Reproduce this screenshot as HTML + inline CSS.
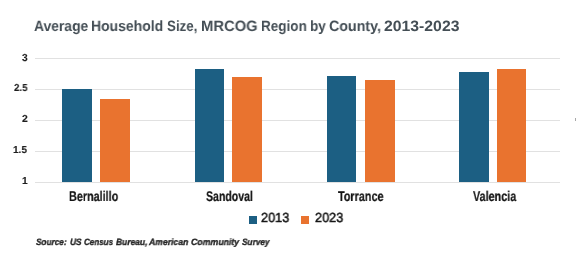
<!DOCTYPE html>
<html><head><meta charset="utf-8">
<style>
html,body{margin:0;padding:0;background:#fff;}
body{width:584px;height:254px;position:relative;overflow:hidden;font-family:"Liberation Sans",sans-serif;}
.t{position:absolute;white-space:nowrap;transform-origin:0 0;text-rendering:geometricPrecision;will-change:transform;}
.r{position:absolute;}
</style></head><body>
<div class="r" style="left:35px;top:58px;width:525px;height:1px;background:#e1e1e1"></div>
<div class="r" style="left:35px;top:89px;width:525px;height:1px;background:#e1e1e1"></div>
<div class="r" style="left:35px;top:120px;width:525px;height:1px;background:#e1e1e1"></div>
<div class="r" style="left:35px;top:151px;width:525px;height:1px;background:#e1e1e1"></div>
<div class="r" style="left:35px;top:182px;width:525px;height:1px;background:#e1e1e1"></div>
<div class="r" style="left:62.0px;top:89px;width:30px;height:93.00px;background:#1c5f83"></div>
<div class="r" style="left:100.0px;top:99px;width:30px;height:83.00px;background:#e9732f"></div>
<div class="r" style="left:195.0px;top:69px;width:29px;height:113.00px;background:#1c5f83"></div>
<div class="r" style="left:232.0px;top:77px;width:30px;height:105.00px;background:#e9732f"></div>
<div class="r" style="left:327.0px;top:76px;width:29px;height:106.00px;background:#1c5f83"></div>
<div class="r" style="left:365.0px;top:80px;width:30px;height:102.00px;background:#e9732f"></div>
<div class="r" style="left:459.0px;top:72px;width:30px;height:110.00px;background:#1c5f83"></div>
<div class="r" style="left:497.0px;top:69px;width:29px;height:113.00px;background:#e9732f"></div>
<div class="r" style="left:248.8px;top:215.9px;width:8.4px;height:7.9px;background:#1c5f83"></div>
<div class="r" style="left:301.1px;top:216px;width:8.2px;height:7.8px;background:#e9732f"></div>
<div class="r" style="left:574.6px;top:118px;width:1.5px;height:3px;background:#a8a8a8"></div>
<span class="t" style="left:33.78px;top:19.86px;font-size:14.928px;line-height:14.928px;font-weight:bold;font-style:normal;color:#444e55;transform:scaleX(0.9298)">Average</span>
<span class="t" style="left:91.22px;top:19.86px;font-size:14.928px;line-height:14.928px;font-weight:bold;font-style:normal;color:#444e55;transform:scaleX(0.9363)">Household</span>
<span class="t" style="left:167.10px;top:19.86px;font-size:14.928px;line-height:14.928px;font-weight:bold;font-style:normal;color:#444e55;transform:scaleX(0.8942)">Size,</span>
<span class="t" style="left:200.87px;top:19.86px;font-size:14.928px;line-height:14.928px;font-weight:bold;font-style:normal;color:#444e55;transform:scaleX(0.9904)">MRCOG</span>
<span class="t" style="left:260.95px;top:19.86px;font-size:14.928px;line-height:14.928px;font-weight:bold;font-style:normal;color:#444e55;transform:scaleX(0.9062)">Region</span>
<span class="t" style="left:310.05px;top:19.86px;font-size:14.928px;line-height:14.928px;font-weight:bold;font-style:normal;color:#444e55;transform:scaleX(0.9096)">by</span>
<span class="t" style="left:329.43px;top:19.86px;font-size:14.928px;line-height:14.928px;font-weight:bold;font-style:normal;color:#444e55;transform:scaleX(0.9557)">County,</span>
<span class="t" style="left:384.33px;top:19.86px;font-size:14.928px;line-height:14.928px;font-weight:bold;font-style:normal;color:#444e55;transform:scaleX(1.0582)">2013-2023</span>
<span class="t" style="left:68.64px;top:188.99px;font-size:14.058px;line-height:14.058px;font-weight:bold;font-style:normal;color:#141414;transform:scaleX(0.7689);-webkit-text-stroke:0.2px #141414">Bernalillo</span>
<span class="t" style="left:205.58px;top:188.99px;font-size:14.058px;line-height:14.058px;font-weight:bold;font-style:normal;color:#141414;transform:scaleX(0.7507);-webkit-text-stroke:0.2px #141414">Sandoval</span>
<span class="t" style="left:338.39px;top:188.99px;font-size:14.058px;line-height:14.058px;font-weight:bold;font-style:normal;color:#141414;transform:scaleX(0.7712);-webkit-text-stroke:0.2px #141414">Torrance</span>
<span class="t" style="left:473.39px;top:188.99px;font-size:14.058px;line-height:14.058px;font-weight:bold;font-style:normal;color:#141414;transform:scaleX(0.7682);-webkit-text-stroke:0.2px #141414">Valencia</span>
<span class="t" style="left:261.37px;top:211.44px;font-size:13.286px;line-height:13.286px;font-weight:normal;font-style:normal;color:#161616;transform:scaleX(0.9541);-webkit-text-stroke:0.5px #161616">2013</span>
<span class="t" style="left:315.07px;top:211.44px;font-size:13.286px;line-height:13.286px;font-weight:normal;font-style:normal;color:#161616;transform:scaleX(0.9541);-webkit-text-stroke:0.5px #161616">2023</span>
<span class="t" style="left:36.12px;top:237.73px;font-size:9.130px;line-height:9.130px;font-weight:bold;font-style:italic;color:#262626;transform:scaleX(0.9007);-webkit-text-stroke:0.35px #262626">Source:</span>
<span class="t" style="left:69.60px;top:237.73px;font-size:9.130px;line-height:9.130px;font-weight:bold;font-style:italic;color:#262626;transform:scaleX(0.9127);-webkit-text-stroke:0.35px #262626">US</span>
<span class="t" style="left:83.90px;top:237.73px;font-size:9.130px;line-height:9.130px;font-weight:bold;font-style:italic;color:#262626;transform:scaleX(0.8805);-webkit-text-stroke:0.35px #262626">Census</span>
<span class="t" style="left:115.83px;top:237.73px;font-size:9.130px;line-height:9.130px;font-weight:bold;font-style:italic;color:#262626;transform:scaleX(0.9258);-webkit-text-stroke:0.35px #262626">Bureau,</span>
<span class="t" style="left:149.27px;top:237.73px;font-size:9.130px;line-height:9.130px;font-weight:bold;font-style:italic;color:#262626;transform:scaleX(0.9457);-webkit-text-stroke:0.35px #262626">American</span>
<span class="t" style="left:190.96px;top:237.73px;font-size:9.130px;line-height:9.130px;font-weight:bold;font-style:italic;color:#262626;transform:scaleX(0.9596);-webkit-text-stroke:0.35px #262626">Community</span>
<span class="t" style="left:241.62px;top:237.73px;font-size:9.130px;line-height:9.130px;font-weight:bold;font-style:italic;color:#262626;transform:scaleX(0.9062);-webkit-text-stroke:0.35px #262626">Survey</span>
<span class="t" style="left:21.69px;top:53.54px;font-size:10.114px;line-height:10.114px;font-weight:bold;font-style:normal;color:#1e1e1e;transform:scaleX(1.0089);-webkit-text-stroke:0.15px #1e1e1e">3</span>
<span class="t" style="left:13.81px;top:83.69px;font-size:10.114px;line-height:10.114px;font-weight:bold;font-style:normal;color:#1e1e1e;transform:scaleX(0.9590);-webkit-text-stroke:0.15px #1e1e1e">2.5</span>
<span class="t" style="left:21.59px;top:114.79px;font-size:10.114px;line-height:10.114px;font-weight:bold;font-style:normal;color:#1e1e1e;transform:scaleX(1.0291);-webkit-text-stroke:0.15px #1e1e1e">2</span>
<span class="t" style="left:13.40px;top:145.69px;font-size:10.114px;line-height:10.114px;font-weight:bold;font-style:normal;color:#1e1e1e;transform:scaleX(0.9887);-webkit-text-stroke:0.15px #1e1e1e">1.5</span>
<span class="t" style="left:21.59px;top:176.69px;font-size:10.114px;line-height:10.114px;font-weight:bold;font-style:normal;color:#1e1e1e;transform:scaleX(1.0097);-webkit-text-stroke:0.15px #1e1e1e">1</span>
</body></html>
